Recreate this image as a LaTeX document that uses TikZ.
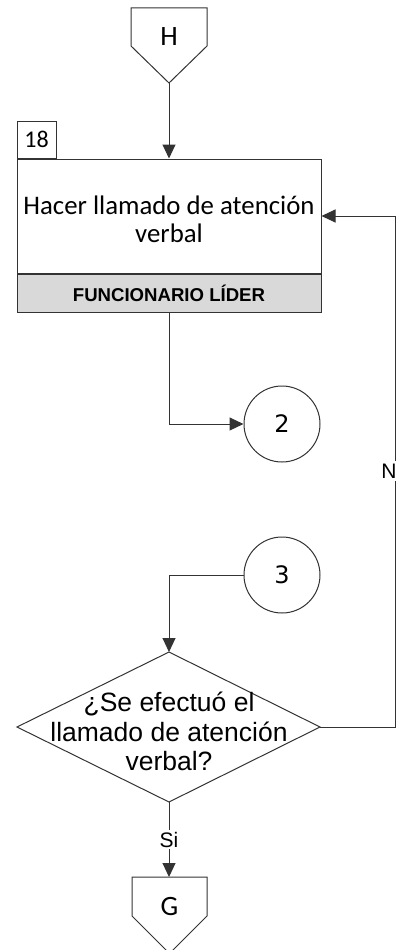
\documentclass[tikz,border=0pt]{standalone}
\usepackage{fontspec}
\setmainfont{Carlito}
\newfontfamily\arialf{Liberation Sans}
\newfontfamily\dejavu{DejaVu Sans}
\usetikzlibrary{arrows.meta}
\definecolor{band}{HTML}{D9D9D9}
\definecolor{ink}{HTML}{333333}
\begin{document}
\begin{tikzpicture}[x=1pt,y=-1pt]
\tikzset{
  outline/.style={draw=ink, line width=1pt},
  conn/.style={draw=ink, line width=1pt, -{Triangle[length=14pt,width=13pt]}},
  lbl/.style={fill=white, inner sep=1.5pt, font=\arialf\fontsize{21}{24}\selectfont},
  calib/.style={font=\fontsize{26.8}{28}\selectfont},
  letter/.style={font=\fontsize{28}{30}\selectfont, inner sep=0},
  digit/.style={outline, circle, minimum size=76pt, inner sep=0, font=\dejavu\fontsize{24}{26}\selectfont},
}
\useasboundingbox (0,0) rectangle (398,950);

% connector H
\draw[outline] (131,8) -- (207,8) -- (207,46) -- (169,83) -- (131,46) -- cycle;
\node[letter] (H) at (169,37) {H};
\coordinate (Htip) at (169,83);

% task box
\node[outline, rectangle, minimum width=304pt, minimum height=114pt, inner sep=0] (task) at (169,216) {};
\node[align=center, calib, inner sep=0] (tasktext) at (169,219.5) {Hacer llamado de atención\\verbal};
\node[outline, fill=band, rectangle, minimum width=304pt, minimum height=38pt, inner sep=0,
      anchor=north, font=\arialf\bfseries\fontsize{18.6}{22}\selectfont] (role) at (task.south) {FUNCIONARIO LÍDER};
\node[outline, rectangle, minimum width=39pt, minimum height=37pt, inner sep=0,
      anchor=south west, font=\fontsize{24}{26}\selectfont] (num) at (task.north west) {18};

\draw[conn] (Htip) -- (task.north);

% circles
\node[digit] (c2) at (282,424) {2};
\node[digit] (c3) at (282,575) {3};

\draw[conn] (role.south) |- (c2.west);

% decision
\coordinate (dtop) at (169,652);
\coordinate (dright) at (320,727);
\coordinate (dbot) at (169,802);
\coordinate (dleft) at (17,727);
\draw[outline] (dtop) -- (dright) -- (dbot) -- (dleft) -- cycle;
\node[align=center, inner sep=0, font=\arialf\fontsize{26.5}{29.5}\selectfont] (q) at (169,731.5)
  {¿Se efectuó el\\llamado de atención\\verbal?};

\draw[conn] (c3.west) -| (dtop);

% loop back (N)
\coordinate (loopA) at (395,727);
\draw[conn] (dright) -- (loopA) -- (loopA |- task.east) -- (task.east);
\node[lbl, inner xsep=1pt, inner ysep=3pt] (nlab) at (389,471) {N};

% connector G
\draw[outline] (132,877) -- (207,877) -- (207,916) -- (169.5,953.5) -- (132,916) -- cycle;
\node[letter] (G) at (169.5,906) {G};
\coordinate (Gtop) at (169.5,877);

\draw[conn] (dbot) -- node[lbl, pos=0.5]{Si} (dbot |- Gtop);
\end{tikzpicture}
\end{document}
